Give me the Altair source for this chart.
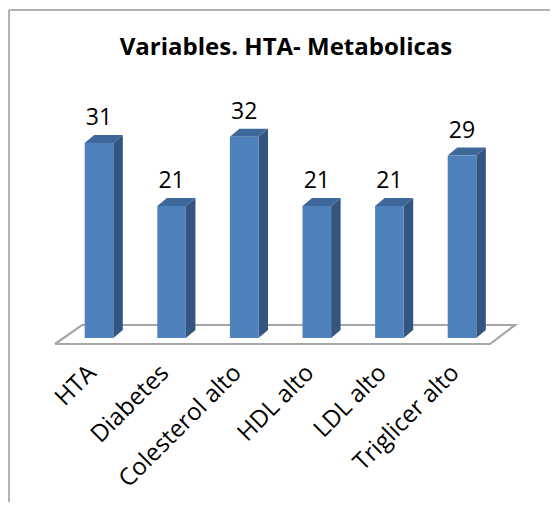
import altair as alt
import pandas as pd

# ---- data ----
categories = ["HTA", "Diabetes", "Colesterol alto", "HDL alto", "LDL alto", "Triglicer alto"]
values = [31, 21, 32, 21, 21, 29]
title_text = "Variables. HTA- Metabolicas"

# ---- geometry / style (not data) ----
W, H = 542, 494
X_DOMAIN = [-1.2534, 6.2121]
Y_DOMAIN = [-26.073, 52.464]
HW = 0.197      # half width of front face (index units)
DX = 0.131      # depth offset x (index units)
DY = 1.27       # depth offset y (value units)
FRONT = "#4f81bd"
SIDE = "#34557f"
TOP = "#3e679a"
FONT = "Open Sans"

idx = list(range(len(categories)))
front = pd.DataFrame({"cat": categories, "i": idx, "v": values})
front["x0"] = front["i"] - HW
front["x1"] = front["i"] + HW
front["y0"] = 0.0

side_rows, top_rows = [], []
for c, i, v in zip(categories, idx, values):
    side_rows.append({"cat": c, "x": i + HW, "y": 0.0, "y2": v})
    side_rows.append({"cat": c, "x": i + HW + DX, "y": DY, "y2": v + DY})
    top_rows.append({"cat": c, "y": v, "x": i - HW, "x2": i + HW})
    top_rows.append({"cat": c, "y": v + DY, "x": i - HW + DX, "x2": i + HW + DX})
side = pd.DataFrame(side_rows)
top = pd.DataFrame(top_rows)

# floor parallelogram corners (projection of the 3-D base plane)
floor_x = [-0.606, 5.386, 5.730, -0.234, -0.606]
floor_y = [-0.954, -0.954, 2.067, 2.067, -0.954]
floor_outline = pd.DataFrame({"x": floor_x, "y": floor_y, "k": list(range(len(floor_x)))})
floor_fill = pd.DataFrame({
    "y": [floor_y[0], floor_y[2]],
    "x": [floor_x[0], floor_x[3]],
    "x2": [floor_x[1], floor_x[2]],
})

labels = pd.DataFrame({"cat": categories, "i": [k - 0.09 for k in idx], "y": [-5.0] * len(idx)})

xs = alt.Scale(domain=X_DOMAIN, nice=False, zero=False)
ys = alt.Scale(domain=Y_DOMAIN, nice=False, zero=False)

floor_fill_layer = alt.Chart(floor_fill).mark_area(orient="horizontal", color="white").encode(
    y=alt.Y("y:Q", scale=ys, axis=None),
    x=alt.X("x:Q", scale=xs, axis=None),
    x2="x2:Q",
)

floor_line_layer = alt.Chart(floor_outline).mark_line(color="#a6a6a6", strokeWidth=2.2).encode(
    x=alt.X("x:Q", scale=xs, axis=None),
    y=alt.Y("y:Q", scale=ys, axis=None),
    order="k:Q",
)

side_layer = alt.Chart(side).mark_area(orient="vertical", color=SIDE).encode(
    x=alt.X("x:Q", scale=xs, axis=None),
    y=alt.Y("y:Q", scale=ys, axis=None),
    y2="y2:Q",
    detail="cat:N",
)

top_layer = alt.Chart(top).mark_area(orient="horizontal", color=TOP).encode(
    y=alt.Y("y:Q", scale=ys, axis=None),
    x=alt.X("x:Q", scale=xs, axis=None),
    x2="x2:Q",
    detail="cat:N",
)

front_layer = alt.Chart(front).mark_rect(color=FRONT).encode(
    x=alt.X("x0:Q", scale=xs, axis=None),
    x2="x1:Q",
    y=alt.Y("y0:Q", scale=ys, axis=None),
    y2="v:Q",
)

value_layer = alt.Chart(front).mark_text(
    font=FONT, fontSize=23, color="black", baseline="alphabetic", dy=-18
).encode(
    x=alt.X("i:Q", scale=xs, axis=None),
    y=alt.Y("v:Q", scale=ys, axis=None),
    text="v:Q",
)

cat_layer = alt.Chart(labels).mark_text(
    font=FONT, fontSize=24, color="black", angle=315, align="right", baseline="middle"
).encode(
    x=alt.X("i:Q", scale=xs, axis=None),
    y=alt.Y("y:Q", scale=ys, axis=None),
    text="cat:N",
)

title_layer = alt.Chart(pd.DataFrame({"t": [title_text]})).mark_text(
    font=FONT, fontSize=24, fontWeight="bold", color="black", align="center", baseline="alphabetic"
).encode(x=alt.value(278), y=alt.value(47), text="t:N")

border_left = alt.Chart(pd.DataFrame({"a": [0]})).mark_rule(color="#999999", strokeWidth=1.5).encode(
    x=alt.value(1), y=alt.value(2), y2=alt.value(H)
)
border_top = alt.Chart(pd.DataFrame({"a": [0]})).mark_rule(color="#999999", strokeWidth=1.5).encode(
    x=alt.value(1), x2=alt.value(W), y=alt.value(2)
)

chart = alt.layer(
    border_left, border_top, floor_fill_layer, floor_line_layer, side_layer, top_layer, front_layer,
    value_layer, cat_layer, title_layer
).properties(
    width=W, height=H, autosize=alt.AutoSizeParams(type="none"), padding=0
).configure_view(stroke=None)

chart.save("out.html", embed_options={"renderer": "svg", "actions": False})
